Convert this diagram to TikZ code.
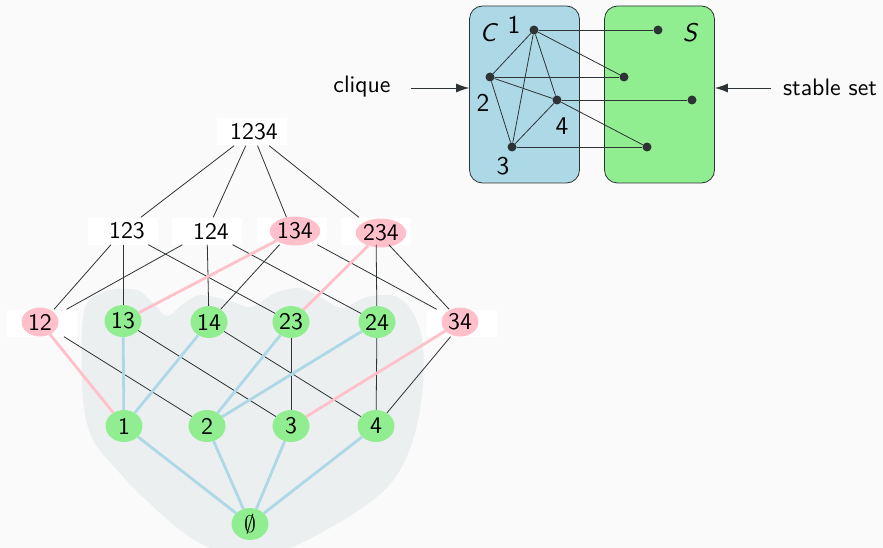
\documentclass[tikz,border=0pt]{standalone}
\usepackage{graphicx}
\usetikzlibrary{shapes.geometric,arrows.meta,calc}
\definecolor{bgc}{HTML}{FAFAFA}
\definecolor{blobc}{HTML}{ECEFF0}
\definecolor{lblue}{HTML}{ADD8E6}
\definecolor{lgreen}{HTML}{90EE90}
\definecolor{lpink}{HTML}{FFC0CB}
\definecolor{dk}{HTML}{2E3436}
\newcommand{\T}[1]{\scalebox{2.38}{#1}}
\newcommand{\TL}[1]{\scalebox{2.55}{#1}}
\tikzset{
  txt/.style={font=\fontsize{10}{12}\sffamily\selectfont, text=black},
  whitebox/.style={txt, rectangle, fill=white, minimum width=70pt, minimum height=27pt, inner sep=0pt},
  pinkblob/.style={txt, ellipse, fill=lpink, minimum width=37pt, minimum height=29pt, inner sep=0pt},
  greenblob/.style={txt, ellipse, fill=lgreen, minimum width=37pt, minimum height=32pt, inner sep=0pt},
  hasse/.style={draw=dk, line width=0.8pt},
  pinkedge/.style={draw=lpink, line width=2.8pt},
  blueedge/.style={draw=lblue, line width=2.8pt},
  dotv/.style={circle, fill=dk, minimum size=9pt, inner sep=0pt},
  gedge/.style={draw=dk, line width=0.8pt},
  setbox/.style={rectangle, rounded corners=13pt, draw=dk, line width=0.8pt, minimum width=110pt, minimum height=177pt},
  pointer/.style={draw=dk, line width=0.8pt, -{Latex[length=13pt,width=9pt]}}
}
\begin{document}
\begin{tikzpicture}[x=1pt,y=-1pt]
\fill[bgc] (0,0) rectangle (883,548);
\useasboundingbox (0,0) rectangle (883,548);
% gray blob
\begin{scope}
\clip (0,0) rectangle (883,548);
\fill[blobc] plot[smooth cycle, tension=0.55] coordinates {(82,330) (88,302) (110,290) (137,290) (152,302) (167,316) (182,305) (200,295) (230,301) (252,307) (275,293) (300,288) (322,298) (342,308) (367,297) (395,296) (413,313) (423,345) (422,395) (413,440) (397,475) (373,500) (335,525) (290,548) (251,558) (210,548) (180,530) (143,497) (117,470) (93,440) (83,400)};
\end{scope}
% white boxes
\node[whitebox] (n1234) at (252,132) {\hspace*{4pt}\T{1234}};
\node[whitebox] (n123) at (123,231) {\hspace*{8pt}\T{123}};
\node[whitebox] (n124) at (207,231) {\hspace*{8pt}\T{124}};
\node[whitebox] (w134) at (292,231) {};
\node[whitebox] (w234) at (376,231) {};
\node[whitebox] (w12) at (42,323) {};
\node[whitebox] (w34) at (462,323) {};
% colored nodes
\node[pinkblob] (n134) at (295,231) {\T{134}};
\node[pinkblob] (n234) at (381,233) {\T{234}};
\node[pinkblob] (n12) at (40,322) {\T{12}};
\node[pinkblob] (n34) at (460,322) {\T{34}};
\node[greenblob] (n13) at (123,321) {\T{13}};
\node[greenblob] (n14) at (209,322) {\T{14}};
\node[greenblob] (n23) at (291,322) {\T{23}};
\node[greenblob] (n24) at (377,322) {\T{24}};
\node[greenblob] (n1) at (124,426) {\T{1}};
\node[greenblob] (n2) at (207,426) {\T{2}};
\node[greenblob] (n3) at (291,426) {\T{3}};
\node[greenblob] (n4) at (376,426) {\T{4}};
\node[greenblob] (n0) at (250,524) {\T{$\emptyset$}};
% edges
\draw[hasse] (n1234) -- (n123);
\draw[hasse] (n1234) -- (n124);
\draw[hasse] (n1234) -- (w134);
\draw[hasse] (n1234) -- (w234);
\draw[hasse] (n123) -- (w12);
\draw[hasse] (n123) -- (n13);
\draw[hasse] (n123) -- (n23);
\draw[hasse] (n124) -- (w12);
\draw[hasse] (n124) -- (n14);
\draw[hasse] (n124) -- (n24);
\draw[hasse] (w134) -- (n14);
\draw[hasse] (w134) -- (w34);
\draw[hasse] (w234) -- (n24);
\draw[hasse] (w234) -- (w34);
\draw[hasse] (w12) -- (n2);
\draw[hasse] (n13) -- (n3);
\draw[hasse] (n14) -- (n4);
\draw[hasse] (n23) -- (n3);
\draw[hasse] (n24) -- (n4);
\draw[hasse] (w34) -- (n4);
\draw[pinkedge] (n134) -- (n13);
\draw[pinkedge] (n234) -- (n23);
\draw[pinkedge] (n12) -- (n1);
\draw[pinkedge] (n34) -- (n3);
\draw[blueedge] (n13) -- (n1);
\draw[blueedge] (n14) -- (n1);
\draw[blueedge] (n23) -- (n2);
\draw[blueedge] (n24) -- (n2);
\draw[blueedge] (n1) -- (n0);
\draw[blueedge] (n2) -- (n0);
\draw[blueedge] (n3) -- (n0);
\draw[blueedge] (n4) -- (n0);
% top right graph
\node[setbox, fill=lblue] (boxC) at (524.5,94.5) {};
\node[setbox, fill=lgreen] (boxS) at (659.5,94.5) {};
\node[txt] (lC) at (488,33) {\TL{\itshape C}};
\node[txt] (lS) at (690,33) {\TL{\itshape S}};
\node[dotv] (c1) at (534,30) {};
\node[dotv] (c2) at (490,77) {};
\node[dotv] (c4) at (557,100) {};
\node[dotv] (c3) at (512,147) {};
\node[dotv] (s1) at (658,30) {};
\node[dotv] (s2) at (624,77) {};
\node[dotv] (s3) at (692,100) {};
\node[dotv] (s4) at (647,147) {};
\node[txt] (t1) at (514,25) {\TL{1}};
\node[txt] (t2) at (483,103) {\TL{2}};
\node[txt] (t4) at (562,126) {\TL{4}};
\node[txt] (t3) at (503,166) {\TL{3}};
\draw[gedge] (c1) -- (c2);
\draw[gedge] (c1) -- (c3);
\draw[gedge] (c1) -- (c4);
\draw[gedge] (c2) -- (c3);
\draw[gedge] (c2) -- (c4);
\draw[gedge] (c3) -- (c4);
\draw[gedge] (c1) -- (s1);
\draw[gedge] (c1) -- (s2);
\draw[gedge] (c2) -- (s2);
\draw[gedge] (c4) -- (s3);
\draw[gedge] (c4) -- (s4);
\draw[gedge] (c3) -- (s4);
\node[txt] (clique) at (362,87) {\T{clique}};
\node[txt] (stable) at (830,87) {\T{stable set}};
\coordinate (ca) at (411,88);
\coordinate (sa) at (771,88);
\draw[pointer] (ca) -- (ca -| boxC.west);
\draw[pointer] (sa) -- (sa -| boxS.east);
\end{tikzpicture}
\end{document}
